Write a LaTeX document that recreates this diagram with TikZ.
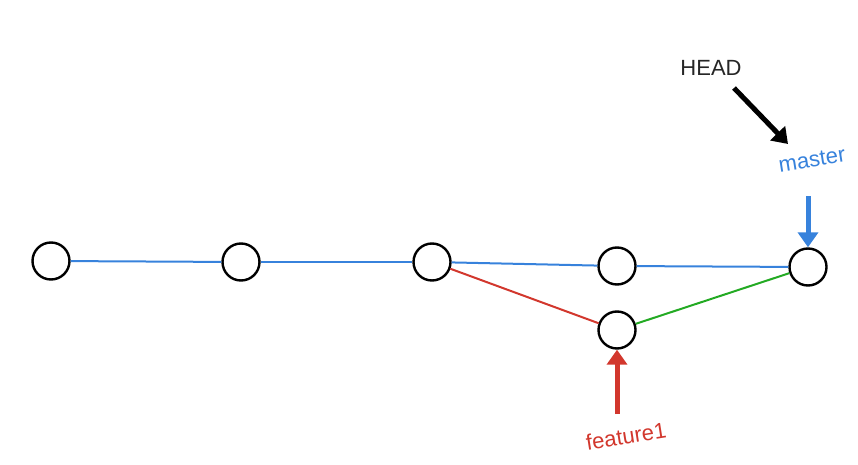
\documentclass[tikz,border=0pt]{standalone}
\usepackage{fontspec}
\setmainfont{Liberation Sans}
\usetikzlibrary{arrows.meta}
\definecolor{cblue}{RGB}{55,130,220}
\definecolor{cred}{RGB}{210,55,45}
\definecolor{cgreen}{RGB}{35,170,35}
\tikzset{
  commit/.style={circle,draw=black,line width=2.4pt,minimum size=37pt,inner sep=0pt,fill=white},
  edge/.style={line width=2pt},
  bigarrow/.style={line width=5pt,-{Triangle[length=15pt,width=20pt]}},
  lbl/.style={font=\fontsize{22}{22}\selectfont,inner sep=1pt}
}
\begin{document}
\begin{tikzpicture}[x=1pt,y=1pt]
\useasboundingbox (0,0) rectangle (858,464);
\node[commit] (c1) at (51,203) {};
\node[commit] (c2) at (241,202) {};
\node[commit] (c3) at (432,202) {};
\node[commit] (c4) at (617,198) {};
\node[commit] (c5) at (808,197) {};
\node[commit] (f1) at (617,134) {};
\draw[edge,cblue] (c1) -- (c2);
\draw[edge,cblue] (c2) -- (c3);
\draw[edge,cblue] (c3) -- (c4);
\draw[edge,cblue] (c4) -- (c5);
\draw[edge,cred] (c3) -- (f1);
\draw[edge,cgreen] (f1) -- (c5);
\node[lbl,text=black!85] (head) at (711,396) {HEAD};
\node[lbl,text=cblue,rotate=9] (master) at (812,304) {master};
\node[lbl,text=cred,rotate=9] (feat) at (626,28) {feature1};
\coordinate (ha) at (734,376);
\coordinate (hb) at (788,320);
\coordinate (ma) at (808,268);
\coordinate (fa) at (617,50);
\draw[bigarrow,black] (ha) -- (hb);
\draw[bigarrow,cblue] (ma) -- (c5.north);
\draw[bigarrow,cred] (fa) -- (f1.south);
\end{tikzpicture}
\end{document}
